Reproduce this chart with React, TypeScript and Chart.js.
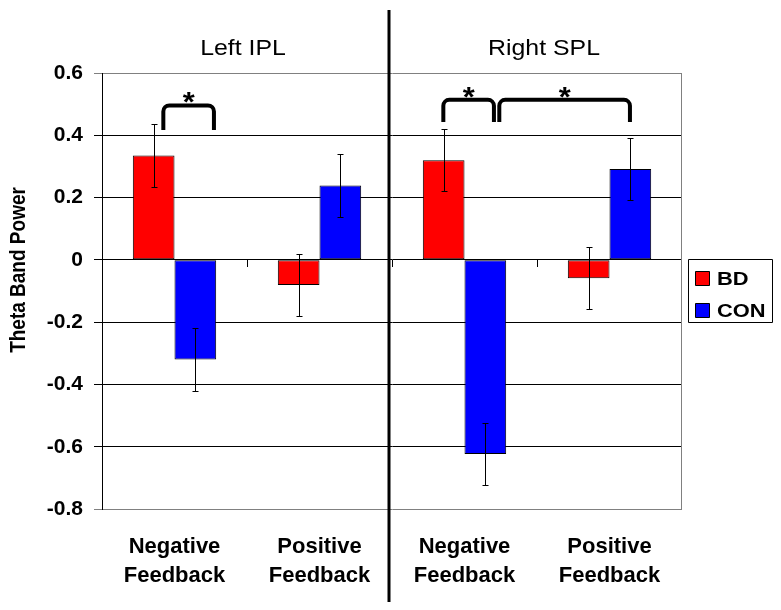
import React, { useEffect, useRef } from 'react';
import { Chart, registerables } from 'chart.js';

Chart.register(...registerables);

// ---- data ----
const categories = [
  ['Negative', 'Feedback'],
  ['Positive', 'Feedback'],
  ['Negative', 'Feedback'],
  ['Positive', 'Feedback'],
];
const seriesNames = ['BD', 'CON'];
const seriesColors = ['#FF0000', '#0000FF'];
const bdValues = [0.335, -0.081, 0.32, -0.059];
const conValues = [-0.32, 0.239, -0.623, 0.292];
const bdErrors = [0.1, 0.1, 0.1, 0.1];
const conErrors = [0.1, 0.1, 0.1, 0.1];
const yTickValues = [-0.8, -0.6, -0.4, -0.2, 0, 0.2, 0.4, 0.6];
const groupTitles = ['Left IPL', 'Right SPL'];
const yTitle = 'Theta Band Power';
// significance brackets (x in category units, y in data units)
const bracketStart = [-0.077, 1.854, 2.24];
const bracketEnd = [0.272, 2.203, 3.141];
const bracketTop = [0.496, 0.514, 0.514];
const bracketBottom = [0.417, 0.443, 0.443];
const bracketLabels = ['*', '*', '*'];

const FONT = '"Liberation Sans", Arial, sans-serif';

function stretchText(ctx: CanvasRenderingContext2D, text: string, x: number, y: number, sx: number, align: CanvasTextAlign) {
  ctx.save();
  ctx.translate(x, y);
  ctx.scale(sx, 1);
  ctx.textAlign = align;
  ctx.textBaseline = 'alphabetic';
  ctx.fillText(text, 0, 0);
  ctx.restore();
}

const overlayPlugin = {
  id: 'overlay',
  afterDatasetsDraw(chart: any) {
    const ctx: CanvasRenderingContext2D = chart.ctx;
    const ys = chart.scales.y;
    const sets: [number[], number[]][] = [
      [bdValues, bdErrors],
      [conValues, conErrors],
    ];
    ctx.save();
    ctx.strokeStyle = '#000';
    ctx.lineWidth = 1;
    sets.forEach(([vals, errs], di) => {
      const meta = chart.getDatasetMeta(di);
      meta.data.forEach((bar: any, i: number) => {
        const cx = Math.round(bar.x) + 0.5;
        const yHi = Math.round(ys.getPixelForValue(vals[i] + errs[i])) + 0.5;
        const yLo = Math.round(ys.getPixelForValue(vals[i] - errs[i])) + 0.5;
        ctx.beginPath();
        ctx.moveTo(cx, yHi);
        ctx.lineTo(cx, yLo);
        ctx.moveTo(cx - 3, yHi);
        ctx.lineTo(cx + 3, yHi);
        ctx.moveTo(cx - 3, yLo);
        ctx.lineTo(cx + 3, yLo);
        ctx.stroke();
      });
    });
    ctx.restore();
  },
  afterDraw(chart: any) {
    const ctx: CanvasRenderingContext2D = chart.ctx;
    const xs = chart.scales.x;
    const ys = chart.scales.y;
    const area = chart.chartArea;
    const p0 = xs.getPixelForValue(0);
    const step = xs.getPixelForValue(1) - p0;
    const xu = (u: number) => p0 + u * step;

    ctx.save();

    // right border of plot area
    ctx.strokeStyle = '#808080';
    ctx.lineWidth = 1;
    ctx.beginPath();
    ctx.moveTo(Math.round(area.right) - 0.5, area.top);
    ctx.lineTo(Math.round(area.right) - 0.5, area.bottom);
    ctx.stroke();

    // category boundary ticks below the zero axis
    const y0 = Math.round(ys.getPixelForValue(0));
    ctx.strokeStyle = '#000';
    for (let i = 0; i < categories.length - 1; i++) {
      const bx = Math.round(xu(i + 0.5)) + 0.5;
      ctx.beginPath();
      ctx.moveTo(bx, y0);
      ctx.lineTo(bx, y0 + 7);
      ctx.stroke();
    }

    // separator line between groups
    const sepX = xu(1.5) - 3;
    ctx.fillStyle = '#000';
    ctx.fillRect(sepX - 1.5, 10, 3, 592);

    // group titles
    ctx.fillStyle = '#000';
    ctx.font = `22px ${FONT}`;
    groupTitles.forEach((t, g) => {
      const cx = xu(2 * g + 0.5) + (g === 0 ? -4 : 7);
      stretchText(ctx, t, cx, 55, 1.13, 'center');
    });

    // y-axis title
    ctx.save();
    ctx.translate(25, 270);
    ctx.rotate(-Math.PI / 2);
    ctx.scale(1, 1.2);
    ctx.font = `bold 19px ${FONT}`;
    ctx.textAlign = 'center';
    ctx.textBaseline = 'alphabetic';
    ctx.fillText(yTitle, 0, 0);
    ctx.restore();

    // significance brackets
    ctx.strokeStyle = '#000';
    ctx.lineWidth = 4;
    ctx.lineJoin = 'round';
    const r = 6;
    bracketStart.forEach((s, k) => {
      const x1 = xu(s);
      const x2 = xu(bracketEnd[k]);
      const yt = ys.getPixelForValue(bracketTop[k]);
      const yb = ys.getPixelForValue(bracketBottom[k]);
      ctx.beginPath();
      ctx.moveTo(x1, yb);
      ctx.lineTo(x1, yt + r);
      ctx.arcTo(x1, yt, x1 + r, yt, r);
      ctx.lineTo(x2 - r, yt);
      ctx.arcTo(x2, yt, x2, yt + r, r);
      ctx.lineTo(x2, yb);
      ctx.stroke();
      ctx.font = `bold 28px ${FONT}`;
      ctx.fillStyle = '#000';
      stretchText(ctx, bracketLabels[k], (x1 + x2) / 2, yt + 6, 1.1, 'center');
    });

    // legend
    const lx = area.right + 6;
    const ly = 259;
    ctx.lineWidth = 1;
    ctx.strokeStyle = '#000';
    ctx.fillStyle = '#fff';
    ctx.fillRect(lx + 0.5, ly + 0.5, 84, 63);
    ctx.strokeRect(lx + 0.5, ly + 0.5, 84, 63);
    seriesNames.forEach((name, i) => {
      const sy = ly + 12 + i * 32;
      ctx.fillStyle = seriesColors[i];
      ctx.fillRect(lx + 7.5, sy + 0.5, 14, 14);
      ctx.strokeRect(lx + 7.5, sy + 0.5, 14, 14);
      ctx.fillStyle = '#000';
      ctx.font = `bold 19px ${FONT}`;
      stretchText(ctx, name, lx + 29, sy + 14, 1.15, 'left');
    });

    ctx.restore();
  },
};

export default function App() {
  const canvasRef = useRef<HTMLCanvasElement | null>(null);

  useEffect(() => {
    if (!canvasRef.current) return;
    const gridColor = (c: any) => {
      const v = c.tick ? c.tick.value : 0;
      return Math.abs(v - 0.6) < 1e-6 || Math.abs(v + 0.8) < 1e-6 ? '#808080' : '#000000';
    };
    const chart = new Chart(canvasRef.current, {
      type: 'bar',
      data: {
        labels: categories,
        datasets: [
          {
            label: seriesNames[0],
            data: bdValues,
            backgroundColor: seriesColors[0],
            borderColor: '#000',
            borderWidth: 1,
            borderSkipped: false,
            categoryPercentage: 0.575,
            barPercentage: 1,
          },
          {
            label: seriesNames[1],
            data: conValues,
            backgroundColor: seriesColors[1],
            borderColor: '#000',
            borderWidth: 1,
            borderSkipped: false,
            categoryPercentage: 0.575,
            barPercentage: 1,
          },
        ],
      },
      options: {
        animation: false,
        responsive: true,
        maintainAspectRatio: false,
        layout: { padding: { top: 73, right: 99, bottom: 0, left: 0 } },
        plugins: {
          legend: { display: false },
          tooltip: { enabled: false },
        },
        scales: {
          x: {
            grid: { display: false, drawTicks: false },
            border: { display: false },
            ticks: {
              color: '#000',
              font: { family: FONT, size: 22, weight: 'bold', lineHeight: 1.32 },
              padding: 23,
              maxRotation: 0,
              autoSkip: false,
            },
            afterFit: (s: any) => {
              s.height = 101;
            },
          },
          y: {
            min: -0.8,
            max: 0.6,
            afterBuildTicks: (s: any) => {
              s.ticks = yTickValues.map((v) => ({ value: v }));
            },
            grid: {
              color: gridColor,
              tickColor: gridColor,
              lineWidth: 1,
              drawTicks: true,
              tickLength: 8,
            },
            border: { display: true, color: '#000', width: 1 },
            ticks: {
              color: '#000',
              font: { family: FONT, size: 21, weight: 'bold' },
              padding: 11,
              callback: (v: any) => {
                const n = Number(v);
                return Math.abs(n) < 1e-9 ? '0' : n.toFixed(1);
              },
            },
            afterFit: (s: any) => {
              s.width = 102;
            },
          },
        },
      },
      plugins: [overlayPlugin],
    });
    return () => chart.destroy();
  }, []);

  return (
    <div style={{ position: 'absolute', left: 0, top: 0, width: 781, height: 610, background: '#fff' }}>
      <canvas ref={canvasRef} />
    </div>
  );
}
